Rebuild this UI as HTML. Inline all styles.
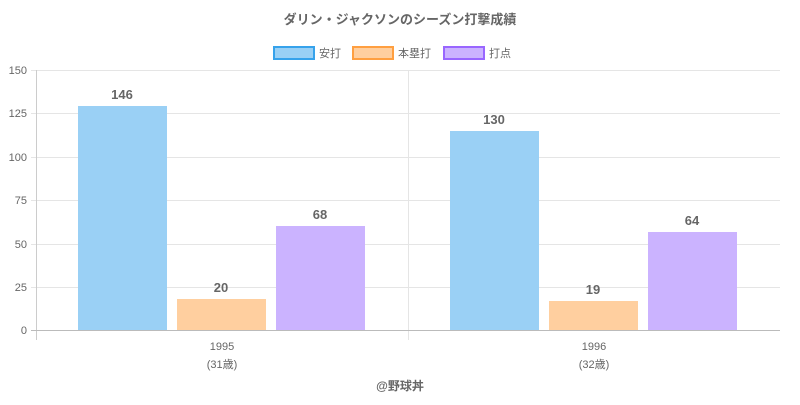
<!DOCTYPE html>
<html><head><meta charset="utf-8"><style>
body{margin:0;background:#fff;}
text{font-family:"Liberation Sans","Noto Sans CJK JP",sans-serif;}
</style></head><body>
<svg width="800" height="400" xmlns="http://www.w3.org/2000/svg">
<rect width="800" height="400" fill="#fff"/>
<text x="400" y="24" text-anchor="middle" font-size="13" font-weight="bold" fill="#666">ダリン・ジャクソンのシーズン打撃成績</text>
<g font-size="11" fill="#666">
<rect x="274" y="47" width="40" height="12" fill="#9ad0f5" stroke="#36a2eb" stroke-width="2"/>
<text x="319" y="57">安打</text>
<rect x="353" y="47" width="40" height="12" fill="#ffcf9f" stroke="#ff9f40" stroke-width="2"/>
<text x="398" y="57">本塁打</text>
<rect x="444" y="47" width="40" height="12" fill="#cbb3ff" stroke="#9966ff" stroke-width="2"/>
<text x="489" y="57">打点</text>
</g>
<g stroke="#e5e5e5" stroke-width="1">
<line x1="37" y1="70.5" x2="780" y2="70.5"/>
<line x1="37" y1="113.5" x2="780" y2="113.5"/>
<line x1="37" y1="157.5" x2="780" y2="157.5"/>
<line x1="37" y1="200.5" x2="780" y2="200.5"/>
<line x1="37" y1="244.5" x2="780" y2="244.5"/>
<line x1="37" y1="287.5" x2="780" y2="287.5"/>
<line x1="408.5" y1="70" x2="408.5" y2="340"/>
<line x1="31" y1="70.5" x2="37" y2="70.5"/>
<line x1="31" y1="113.5" x2="37" y2="113.5"/>
<line x1="31" y1="157.5" x2="37" y2="157.5"/>
<line x1="31" y1="200.5" x2="37" y2="200.5"/>
<line x1="31" y1="244.5" x2="37" y2="244.5"/>
<line x1="31" y1="287.5" x2="37" y2="287.5"/>
<line x1="31" y1="330.5" x2="37" y2="330.5"/>
</g>
<line x1="36.5" y1="70" x2="36.5" y2="340" stroke="#ccc"/>
<line x1="31" y1="330.5" x2="780" y2="330.5" stroke="#bbb"/>
<g font-size="11" fill="#666" text-anchor="end">
<text x="27" y="74">150</text><text x="27" y="117">125</text><text x="27" y="161">100</text>
<text x="27" y="204">75</text><text x="27" y="248">50</text><text x="27" y="291">25</text><text x="27" y="334">0</text>
</g>
<rect x="78" y="106" width="89" height="224" fill="#9ad0f5"/>
<rect x="177" y="299" width="89" height="31" fill="#ffcf9f"/>
<rect x="276" y="226" width="89" height="104" fill="#cbb3ff"/>
<rect x="450" y="131" width="89" height="199" fill="#9ad0f5"/>
<rect x="549" y="301" width="89" height="29" fill="#ffcf9f"/>
<rect x="648" y="232" width="89" height="98" fill="#cbb3ff"/>
<g font-size="13" font-weight="bold" fill="#666" text-anchor="middle">
<text x="122" y="99">146</text><text x="221" y="292">20</text><text x="320" y="219">68</text>
<text x="494" y="124">130</text><text x="593" y="294">19</text><text x="692" y="225">64</text>
</g>
<g font-size="11" fill="#666" text-anchor="middle">
<text x="222" y="350">1995</text><text x="222" y="368">(31歳)</text>
<text x="594" y="350">1996</text><text x="594" y="368">(32歳)</text>
</g>
<text x="400" y="390" text-anchor="middle" font-size="12" font-weight="bold" fill="#666">@野球丼</text>
</svg>
</body></html>
